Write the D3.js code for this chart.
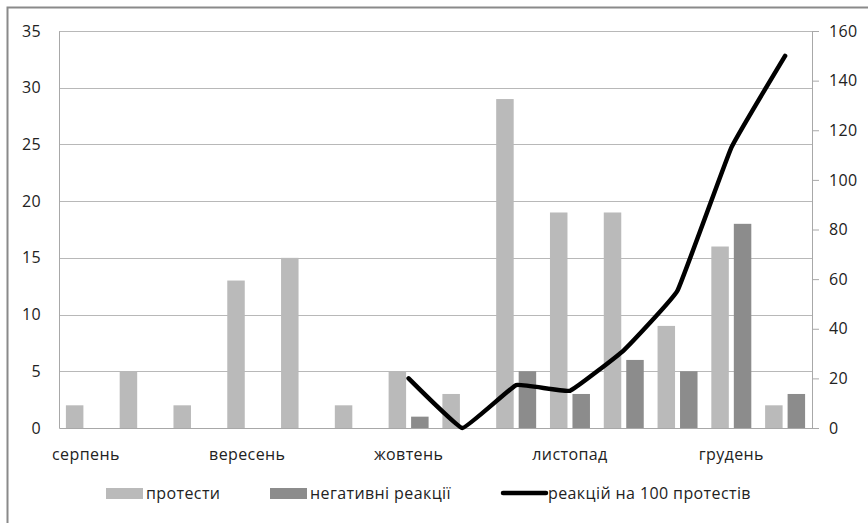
<!DOCTYPE html>
<meta charset="utf-8">
<style>
    html, body { margin: 0; background: #fff; overflow: hidden; }
    svg { display: block; }
    svg text { font-family: 'Open Sans', sans-serif; font-size: 16px; fill: #222; letter-spacing: 0.4px; }
    .grid line { stroke: #b8b8b8; stroke-width: 1px; }
    .axis path, .axis line { stroke: #a8a8a8; }
</style>
<script src="https://cdn.jsdelivr.net/npm/d3@7"></script>
<body>
<div id="chart"></div>
<script>
    // one bar pair per half-month period, label only at month start
    var periodLabels = ["серпень", "", "", "вересень", "", "", "жовтень", "", "", "листопад", "", "", "грудень", ""];
    var protests = [2, 5, 2, 13, 15, 2, 5, 3, 29, 19, 19, 9, 16, 2];
    var negatives = [0, 0, 0, 0, 0, 0, 1, 0, 5, 3, 6, 5, 18, 3];
    var perHundred = [null, null, null, null, null, null, 20, 0, 17.3, 15, 31.3, 55.4, 113, 150];
    var leftTicks = [0, 5, 10, 15, 20, 25, 30, 35];
    var rightTicks = [0, 20, 40, 60, 80, 100, 120, 140, 160];
    var seriesNames = ["протести", "негативні реакції", "реакцій на 100 протестів"];

    var width = 868, height = 523;
    var margin = { top: 31, right: 56, bottom: 95, left: 59 };
    var innerW = width - margin.left - margin.right,
        innerH = height - margin.top - margin.bottom;

    var svg = d3.select("#chart").append("svg")
        .attr("width", width)
        .attr("height", height);

    // outer chart border (runs off the right/bottom edge)
    svg.append("rect")
        .attr("x", 7.5).attr("y", 7.5)
        .attr("width", 880).attr("height", 540)
        .attr("fill", "none")
        .attr("stroke", "#8a8a8a")
        .attr("stroke-width", 2);

    var g = svg.append("g")
        .attr("transform", "translate(" + margin.left + "," + margin.top + ")");

    var idx = d3.range(protests.length);

    var x0 = d3.scaleBand().domain(idx).range([0, innerW]);
    var x1 = d3.scaleBand().domain(["p", "n"]).range([0, x0.bandwidth()])
        .paddingInner(0.222).paddingOuter(0.307);

    var y = d3.scaleLinear().domain([0, 35]).range([innerH, 0]);
    var y2 = d3.scaleLinear().domain([0, 160]).range([innerH, 0]);

    // gridlines
    g.append("g").attr("class", "grid")
        .selectAll("line")
        .data(leftTicks.slice(1))
        .enter().append("line")
        .attr("x1", 0).attr("x2", innerW)
        .attr("y1", function (d) { return Math.round(y(d)) + 0.5; })
        .attr("y2", function (d) { return Math.round(y(d)) + 0.5; });

    // bars
    var colors = { p: "#bababa", n: "#8c8c8c" };
    var pairs = g.append("g").selectAll("g")
        .data(idx)
        .enter().append("g")
        .attr("transform", function (i) { return "translate(" + x0(i) + ",0)"; });

    pairs.selectAll("rect")
        .data(function (i) { return [{ k: "p", v: protests[i] }, { k: "n", v: negatives[i] }]; })
        .enter().append("rect")
        .filter(function (d) { return d.v > 0; })
        .attr("x", function (d) { return x1(d.k); })
        .attr("width", x1.bandwidth())
        .attr("y", function (d) { return y(d.v); })
        .attr("height", function (d) { return innerH - y(d.v); })
        .attr("fill", function (d) { return colors[d.k]; });

    // left axis
    g.append("g").attr("class", "axis")
        .call(d3.axisLeft(y).tickValues(leftTicks).tickSize(0).tickPadding(18));

    // right axis
    g.append("g").attr("class", "axis")
        .attr("transform", "translate(" + innerW + ",0)")
        .call(d3.axisRight(y2).tickValues(rightTicks).tickSize(7).tickSizeOuter(0).tickPadding(10));

    // bottom axis
    g.append("g").attr("class", "axis")
        .attr("transform", "translate(0," + innerH + ")")
        .call(d3.axisBottom(x0).tickSize(0).tickPadding(21)
            .tickFormat(function (i) { return periodLabels[i]; }));

    // line on the secondary axis
    var line = d3.line()
        .defined(function (d) { return d != null; })
        .x(function (d, i) { return x0(i) + x0.bandwidth() / 2; })
        .y(function (d) { return y2(d); })
        .curve(d3.curveCardinal.tension(0.75));

    g.append("path")
        .datum(perHundred)
        .attr("d", line)
        .attr("fill", "none")
        .attr("stroke", "#000")
        .attr("stroke-width", 4.5)
        .attr("stroke-linejoin", "round")
        .attr("stroke-linecap", "round");

    // legend
    var legY = 493;
    var legend = svg.append("g");
    var legendItems = [
        { x: 106, type: "rect", color: colors.p, label: seriesNames[0] },
        { x: 270, type: "rect", color: colors.n, label: seriesNames[1] },
        { x: 503, type: "line", color: "#000", label: seriesNames[2] }
    ];
    legendItems.forEach(function (d) {
        if (d.type === "rect") {
            legend.append("rect")
                .attr("x", d.x).attr("y", legY - 5)
                .attr("width", 37).attr("height", 11)
                .attr("fill", d.color);
            legend.append("text")
                .attr("x", d.x + 40).attr("y", legY).attr("dy", "0.35em")
                .text(d.label);
        } else {
            legend.append("line")
                .attr("x1", d.x).attr("x2", d.x + 43)
                .attr("y1", legY).attr("y2", legY)
                .attr("stroke", d.color)
                .attr("stroke-width", 4.5)
                .attr("stroke-linecap", "round");
            legend.append("text")
                .attr("x", d.x + 45).attr("y", legY).attr("dy", "0.35em")
                .text(d.label);
        }
    });
</script>
</body>
